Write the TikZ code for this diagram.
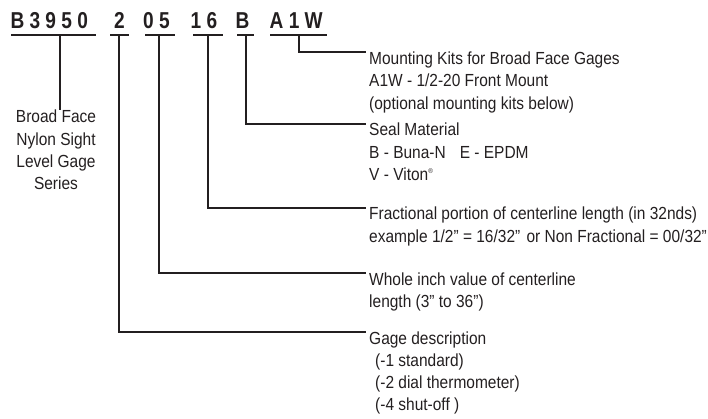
\documentclass[tikz,border=0pt]{standalone}
\usepackage{fontspec}
\setmainfont{Liberation Sans}[FakeStretch=0.885]
\newfontfamily\hdrfont{Liberation Sans}[FakeStretch=0.83,LetterSpace=23]
\definecolor{ink}{HTML}{231F20}
\begin{document}
\begin{tikzpicture}[x=1pt,y=-1pt,
  code/.style={inner sep=0pt, anchor=base west, text=ink,
    font=\hdrfont\bfseries\fontsize{23pt}{23pt}\selectfont},
  desc/.style={inner sep=0pt, anchor=base west, align=left, text=ink,
    font=\fontsize{17.5pt}{22.3pt}\selectfont},
  sdesc/.style={desc, anchor=north, align=center},
  wire/.style={draw=ink, line width=2pt},
  uline/.style={draw=ink, line width=2.2pt}]
\useasboundingbox (0,0) rectangle (708,419);

% code groups
\node[code] (c1) at (10.3,28.3) {B3950};
\node[code] (c2) at (114,28.3) {2};
\node[code] (c3) at (143,28.3) {05};
\node[code] (c4) at (190.5,28.3) {16};
\node[code] (c5) at (235.5,28.3) {B};
\node[code] (c6) at (269.5,28.3) {A1W};

% underlines
\draw[uline] (11,35) -- (96,35);
\draw[uline] (110,35) -- (129,35);
\draw[uline] (145,35) -- (175,35);
\draw[uline] (193,35) -- (223,35);
\draw[uline] (237,35) -- (254,35);
\draw[uline] (270,35) -- (327,35);

% connector start points on the underlines
\coordinate (t1) at (60,35);
\coordinate (t2) at (119,35);
\coordinate (t3) at (159,35);
\coordinate (t4) at (207.5,35);
\coordinate (t5) at (245.5,35);
\coordinate (t6) at (299,35);

% connector end points
\coordinate (e2) at (366,332);
\coordinate (e3) at (366,273);
\coordinate (e4) at (366,208);
\coordinate (e5) at (366,124);
\coordinate (e6) at (366,52.5);

% descriptions (anchor = baseline of the last line)
\node[sdesc] (d1) at (56,110) {Broad Face\\Nylon Sight\\Level Gage\\Series};
\node[desc] (d6) at (369,109.1) {Mounting Kits for Broad Face Gages\\A1W - 1/2-20 Front Mount\\(optional mounting kits below)};
\node[desc] (d5) at (369,180.6) {Seal Material\\B - Buna-N\hspace{14pt}E - EPDM\\V - Viton\raisebox{0.75ex}{\fontsize{7pt}{7pt}\selectfont ®}};
\node[desc] (d4) at (369,242.3) {Fractional portion of centerline length (in 32nds)\\example 1/2” = 16/32”\hspace{2pt} or Non Fractional = 00/32”};
\node[desc] (d3) at (369,307.3) {Whole inch value of centerline\\length (3” to 36”)};
\node[desc] (d2) at (369,410.9) {Gage description\\\hspace{6pt}(-1 standard)\\\hspace{6pt}(-2 dial thermometer)\\\hspace{6pt}(-4 shut-off )};

% connectors
\draw[wire] (t1) -- (t1 |- d1.north);
\draw[wire] (t2) |- (e2);
\draw[wire] (t3) |- (e3);
\draw[wire] (t4) |- (e4);
\draw[wire] (t5) |- (e5);
\draw[wire] (t6) |- (e6);
\end{tikzpicture}
\end{document}
